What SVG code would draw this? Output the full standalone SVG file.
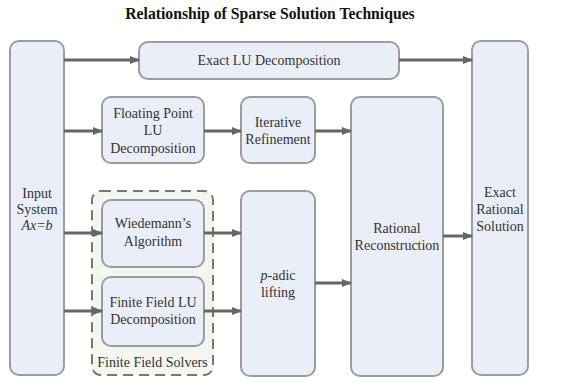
<svg xmlns="http://www.w3.org/2000/svg" width="562" height="390" viewBox="0 0 562 390">
<style>
.box{fill:#e9eef8;stroke:#9c9c9c;stroke-width:2}
.t{font-family:'Liberation Serif','Times New Roman',serif;font-size:14px;fill:#333;text-anchor:middle;dominant-baseline:central}
.title{font-family:'Liberation Serif','Times New Roman',serif;font-size:15.7px;font-weight:bold;fill:#111;text-anchor:middle}
.c{stroke:#666;stroke-width:3;fill:none;marker-end:url(#ah)}
</style>
<defs>
<marker id="ah" markerWidth="10" markerHeight="8" refX="9" refY="4" orient="auto" markerUnits="userSpaceOnUse">
<path d="M0,0 L10,4 L0,8 Z" fill="#666"/>
</marker>
</defs>
<rect width="562" height="390" fill="#fff"/>
<text class="title" x="270" y="19">Relationship of Sparse Solution Techniques</text>
<g id="finite-field-solvers">
<rect x="92" y="191" width="121" height="184" rx="9" fill="#f5f6f0" stroke="#777" stroke-width="2" stroke-dasharray="10,6"/>
<text class="t" x="152.5" y="362">Finite Field Solvers</text>
</g>
<g id="input">
<rect class="box" x="10" y="41" width="54" height="334" rx="9"/>
<text class="t" x="37" y="193">Input</text>
<text class="t" x="37" y="209">System</text>
<text class="t" x="37" y="225" font-style="italic">Ax=b</text>
</g>
<g id="exact-lu">
<rect class="box" x="139" y="42" width="260" height="37" rx="9"/>
<text class="t" x="269" y="60.5">Exact LU Decomposition</text>
</g>
<g id="exact-rational">
<rect class="box" x="472" y="41" width="56" height="334" rx="9"/>
<text class="t" x="500" y="192">Exact</text>
<text class="t" x="500" y="209">Rational</text>
<text class="t" x="500" y="226">Solution</text>
</g>
<g id="floating-lu">
<rect class="box" x="102" y="97" width="102" height="66" rx="9"/>
<text class="t" x="153" y="113">Floating Point</text>
<text class="t" x="153" y="130.5">LU</text>
<text class="t" x="153" y="148">Decomposition</text>
</g>
<g id="iterative">
<rect class="box" x="241" y="97" width="74" height="66" rx="9"/>
<text class="t" x="278" y="122.5">Iterative</text>
<text class="t" x="278" y="139">Refinement</text>
</g>
<g id="rational-reconstruction">
<rect class="box" x="351" y="97" width="92" height="279" rx="9"/>
<text class="t" x="397" y="228">Rational</text>
<text class="t" x="397" y="245">Reconstruction</text>
</g>
<g id="wiedemann">
<rect class="box" x="102" y="200" width="102" height="67" rx="9"/>
<text class="t" x="153" y="223">Wiedemann’s</text>
<text class="t" x="153" y="241">Algorithm</text>
</g>
<g id="ff-lu">
<rect class="box" x="102" y="277" width="102" height="69" rx="9"/>
<text class="t" x="153" y="302">Finite Field LU</text>
<text class="t" x="153" y="319">Decomposition</text>
</g>
<g id="padic">
<rect class="box" x="241" y="191" width="74" height="185" rx="9"/>
<text class="t" x="278" y="275"><tspan font-style="italic">p</tspan>-adic</text>
<text class="t" x="278" y="292">lifting</text>
</g>
<g id="connectors">
<line class="c" x1="64" y1="60" x2="139" y2="60"/>
<line class="c" x1="399" y1="60" x2="472" y2="60"/>
<line class="c" x1="64" y1="131" x2="102" y2="131"/>
<line class="c" x1="204" y1="131" x2="241" y2="131"/>
<line class="c" x1="315" y1="131" x2="351" y2="131"/>
<line class="c" x1="64" y1="233" x2="102" y2="233"/>
<line class="c" x1="204" y1="233" x2="241" y2="233"/>
<line class="c" x1="64" y1="311" x2="102" y2="311"/>
<line class="c" x1="204" y1="311" x2="241" y2="311"/>
<line class="c" x1="315" y1="283" x2="351" y2="283"/>
<line class="c" x1="443" y1="236" x2="472" y2="236"/>
</g>
</svg>
